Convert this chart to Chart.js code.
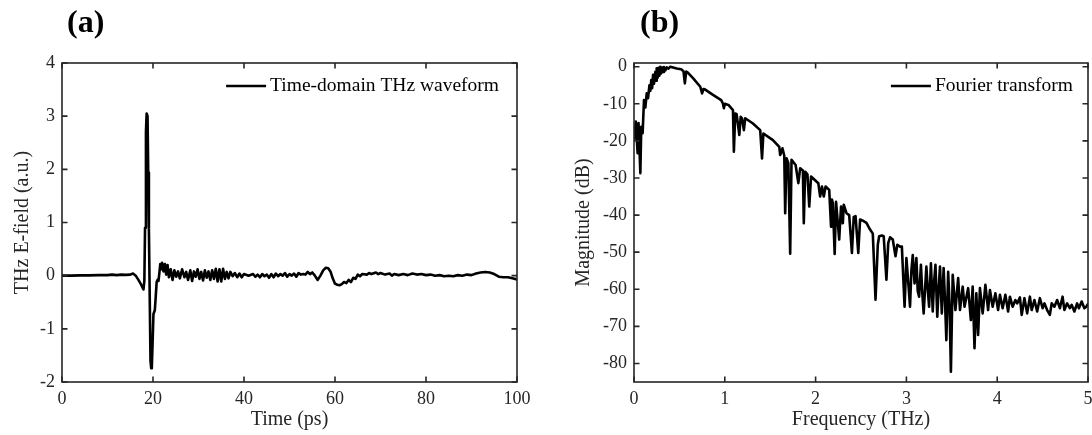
<!DOCTYPE html>
<html>
<head>
<meta charset="utf-8">
<script src="https://cdn.jsdelivr.net/npm/chart.js@4.4.1/dist/chart.umd.min.js"></script>
<style>
  body { margin: 0; background: #fff; }
  #wrap { position: relative; width: 1092px; height: 435px; overflow: hidden; }
  canvas { position: absolute; top: 0; }
  .panel { position: absolute; top: 3px; font: bold 32px "Liberation Serif", "Times New Roman", serif; color: #000; }
</style>
</head>
<body>
<div id="wrap">
  <canvas id="timeChart" width="546" height="435" style="left:0"></canvas>
  <canvas id="freqChart" width="546" height="435" style="left:546px"></canvas>
  <div class="panel" style="left:67px">(a)</div>
  <div class="panel" style="left:640px">(b)</div>
</div>
<script>
// (a) time-domain waveform
const timePs = [0, 2, 4, 6, 8, 10, 11, 12, 13, 14, 15, 15.6, 16.2, 16.8, 17.4, 17.9, 18.1, 18.25, 18.45, 18.6, 18.8, 18.95, 19.1, 19.3, 19.45, 19.6, 19.75, 19.9, 20.1, 20.4, 20.6, 20.8, 21.0, 21.2, 21.4, 21.6, 21.8, 22.0, 22.3, 22.6, 22.9, 23.2, 23.5, 23.9, 24.3, 24.7, 25.1, 25.5, 25.9, 26.4, 26.9, 27.3, 27.7, 28.2, 28.6, 29.0, 29.4, 29.8, 30.2, 30.6, 31.0, 31.4, 31.8, 32.2, 32.6, 33.0, 33.4, 33.8, 34.2, 34.6, 35.0, 35.4, 35.8, 36.2, 36.6, 37.0, 37.5, 38.0, 38.5, 39.0, 39.5, 40, 41, 42, 42.5, 43, 43.5, 44, 44.5, 45, 45.5, 46, 46.5, 47, 47.5, 48, 48.5, 49, 49.5, 50, 50.5, 51, 51.5, 52, 52.5, 53, 53.5, 54, 54.5, 55, 55.5, 56.2, 56.8, 57.4, 58, 58.5, 59, 59.5, 60, 60.5, 61, 61.5, 62, 62.5, 63, 63.5, 64, 64.5, 65, 65.5, 66, 67, 67.5, 68, 69, 69.5, 70, 71, 72, 72.5, 73, 74, 75, 76, 77, 78, 79, 80, 81, 82, 83, 84, 85, 86, 87, 88, 89, 90, 91, 92, 93, 94, 95, 96, 97, 98, 99, 100];
const eField = [0.0, 0.0, 0.005, 0.005, 0.01, 0.01, 0.02, 0.01, 0.02, 0.015, 0.02, 0.04, 0.0, -0.08, -0.17, -0.26, -0.1, 0.9, 2.7, 3.05, 3.0, 1.94, 0.88, -0.54, -1.6, -1.74, -1.7, -1.3, -0.72, -0.65, -0.4, -0.12, -0.08, -0.1, 0.05, 0.22, 0.12, 0.24, 0.08, 0.22, 0.02, 0.2, -0.03, 0.12, -0.08, 0.1, -0.02, 0.08, -0.05, 0.12, -0.03, 0.07, -0.08, 0.1, -0.1, 0.08, -0.02, 0.12, -0.06, 0.07, -0.09, 0.1, -0.04, 0.08, -0.08, 0.1, -0.06, 0.13, -0.11, 0.12, -0.11, 0.13, -0.06, 0.07, -0.05, 0.07, -0.01, 0.05, -0.03, 0.04, -0.03, 0.03, 0.0, 0.03, -0.02, 0.02, -0.03, 0.03, -0.01, 0.02, -0.04, 0.03, -0.03, 0.04, -0.01, 0.03, 0.0, 0.05, -0.02, 0.03, 0.0, 0.04, -0.02, 0.05, 0.02, 0.03, 0.02, 0.07, 0.03, 0.06, 0.01, -0.08, 0.0, 0.1, 0.15, 0.14, 0.08, -0.05, -0.15, -0.17, -0.18, -0.16, -0.12, -0.14, -0.08, -0.12, -0.04, -0.06, 0.02, -0.01, 0.03, 0.02, 0.05, 0.03, 0.06, 0.03, 0.05, 0.02, 0.04, 0.0, 0.03, 0.01, 0.03, 0.01, 0.04, 0.02, 0.03, 0.01, 0.02, 0.0, 0.01, -0.01, 0.0, -0.01, 0.01, 0.0, 0.02, 0.01, 0.04, 0.06, 0.07, 0.06, 0.03, -0.02, -0.03, -0.03, -0.05, -0.07];
const timeTicks = [0, 20, 40, 60, 80, 100];
const fieldTicks = [-2, -1, 0, 1, 2, 3, 4];

// (b) spectrum
const freqTHz = [0.00, 0.02, 0.04, 0.05, 0.07, 0.08, 0.095, 0.11, 0.125, 0.14, 0.155, 0.17, 0.18, 0.19, 0.20, 0.21, 0.22, 0.235, 0.245, 0.25, 0.26, 0.27, 0.28, 0.29, 0.30, 0.31, 0.32, 0.33, 0.345, 0.36, 0.38, 0.40, 0.43, 0.47, 0.52, 0.545, 0.56, 0.575, 0.59, 0.65, 0.73, 0.75, 0.765, 0.78, 0.87, 0.96, 0.98, 0.99, 1.0, 1.04, 1.09, 1.10, 1.115, 1.13, 1.16, 1.175, 1.19, 1.21, 1.225, 1.31, 1.39, 1.41, 1.425, 1.53, 1.60, 1.61, 1.635, 1.655, 1.665, 1.68, 1.70, 1.72, 1.735, 1.78, 1.81, 1.83, 1.86, 1.87, 1.885, 1.91, 1.93, 1.95, 2.03, 2.05, 2.07, 2.09, 2.11, 2.15, 2.17, 2.18, 2.19, 2.21, 2.225, 2.26, 2.28, 2.30, 2.31, 2.34, 2.37, 2.40, 2.42, 2.44, 2.47, 2.49, 2.52, 2.56, 2.60, 2.63, 2.66, 2.685, 2.70, 2.73, 2.75, 2.78, 2.80, 2.82, 2.85, 2.88, 2.90, 2.93, 2.95, 2.98, 3.00, 3.02, 3.04, 3.055, 3.07, 3.09, 3.11, 3.125, 3.14, 3.16, 3.175, 3.19, 3.22, 3.235, 3.25, 3.27, 3.29, 3.305, 3.32, 3.34, 3.355, 3.37, 3.39, 3.41, 3.425, 3.44, 3.46, 3.475, 3.49, 3.51, 3.54, 3.57, 3.59, 3.62, 3.64, 3.68, 3.71, 3.73, 3.75, 3.77, 3.79, 3.81, 3.84, 3.87, 3.90, 3.92, 3.95, 3.98, 4.01, 4.03, 4.06, 4.09, 4.12, 4.14, 4.17, 4.20, 4.22, 4.25, 4.27, 4.30, 4.33, 4.36, 4.38, 4.41, 4.44, 4.47, 4.50, 4.52, 4.55, 4.58, 4.60, 4.63, 4.66, 4.69, 4.72, 4.74, 4.77, 4.80, 4.82, 4.85, 4.88, 4.90, 4.93, 4.96, 4.98, 5.00];
const magnitudeDb = [-19.8, -14.8, -23.3, -15.2, -28.7, -16.2, -17.9, -9.0, -11.0, -7.2, -8.5, -5.0, -6.5, -3.6, -5.8, -2.2, -4.6, -1.4, -3.8, -0.4, -3.0, -0.3, -2.4, 0.0, -1.8, -0.2, -1.4, -0.1, -1.0, -0.2, -0.5, 0.0, -0.2, -0.5, -0.7, -1.2, -4.5, -1.3, -1.5, -3.1, -5.4, -7.2, -6.0, -6.1, -7.6, -9.0, -10.0, -11.2, -10.0, -10.3, -11.7, -22.9, -12.6, -12.8, -18.4, -13.5, -14.0, -17.1, -13.9, -15.3, -17.1, -24.7, -18.0, -19.8, -21.6, -23.8, -22.0, -24.0, -39.5, -24.7, -26.0, -50.4, -25.1, -26.5, -31.4, -27.4, -28.0, -42.2, -28.3, -29.0, -37.7, -29.6, -31.4, -35.0, -32.3, -35.0, -32.3, -33.2, -43.1, -35.8, -36.8, -50.5, -36.4, -46.6, -37.7, -42.2, -37.2, -39.5, -40.0, -50.2, -40.5, -40.3, -50.2, -41.2, -41.5, -42.1, -43.9, -45.0, -62.8, -48.0, -45.7, -45.5, -45.7, -57.4, -47.5, -46.0, -46.6, -51.1, -48.0, -48.5, -48.5, -64.7, -51.6, -58.0, -64.7, -55.0, -50.8, -58.4, -51.6, -60.5, -62.0, -53.4, -61.0, -66.5, -53.9, -60.0, -64.7, -53.0, -66.0, -58.0, -53.4, -67.4, -60.0, -53.9, -66.5, -54.3, -63.0, -73.7, -55.3, -64.0, -82.2, -56.1, -65.6, -57.0, -65.6, -59.3, -64.7, -59.7, -68.3, -59.3, -75.9, -61.1, -72.3, -59.7, -66.5, -58.8, -65.6, -60.2, -64.7, -61.1, -65.6, -61.5, -65.1, -61.5, -66.0, -62.0, -64.7, -62.9, -63.8, -62.2, -66.9, -62.4, -66.5, -62.0, -65.6, -62.9, -66.0, -62.4, -65.1, -63.8, -65.6, -66.9, -63.8, -64.7, -62.9, -65.1, -62.0, -65.6, -63.8, -65.1, -64.2, -66.0, -63.8, -65.1, -63.3, -65.1, -64.7, -64.0];
const freqTicks = [0, 1, 2, 3, 4, 5];
const dbTicks = [-80, -70, -60, -50, -40, -30, -20, -10, 0];

const SERIF = '"Liberation Serif", "Times New Roman", serif';
const AXIS = "#262626";

// box + inward ticks on all four sides, legend in the top right corner
const frameTicks = {
  id: "frameTicks",
  afterDatasetsDraw(chart) {
    const { ctx, chartArea: a, scales: { x, y } } = chart;
    ctx.save();
    ctx.strokeStyle = AXIS;
    ctx.lineWidth = 1.6;
    ctx.beginPath();
    x.ticks.forEach((t) => {
      const px = x.getPixelForValue(t.value);
      ctx.moveTo(px, a.bottom); ctx.lineTo(px, a.bottom - 5.5);
      ctx.moveTo(px, a.top); ctx.lineTo(px, a.top + 5.5);
    });
    y.ticks.forEach((t) => {
      const py = y.getPixelForValue(t.value);
      ctx.moveTo(a.left, py); ctx.lineTo(a.left + 5.5, py);
      ctx.moveTo(a.right, py); ctx.lineTo(a.right - 5.5, py);
    });
    ctx.stroke();
    ctx.strokeRect(a.left, a.top, a.right - a.left, a.bottom - a.top);

    const label = chart.data.datasets[0].label;
    ctx.font = "19.5px " + SERIF;
    ctx.fillStyle = "#000";
    ctx.textBaseline = "middle";
    const w = ctx.measureText(label).width;
    const tx = a.right - chart.options.legendGap - w;
    const ly = a.top + 23;
    ctx.fillText(label, tx, ly);
    ctx.strokeStyle = "#000";
    ctx.lineWidth = 2.5;
    ctx.beginPath();
    ctx.moveTo(tx - 44, ly); ctx.lineTo(tx - 4, ly);
    ctx.stroke();
    ctx.restore();
  },
};

const makeChart = (el, xs, ys, label, xCfg, yCfg, padRight, yWidth, yTitlePad, legendGap) =>
  new Chart(el, {
    type: "line",
    data: {
      datasets: [{
        label: label,
        data: xs.map((v, i) => ({ x: v, y: ys[i] })),
        borderColor: "#000",
        borderWidth: 2.6,
        borderJoinStyle: "round",
        borderCapStyle: "round",
        pointRadius: 0,
        tension: 0,
      }],
    },
    options: {
      responsive: false,
      animation: false,
      legendGap: legendGap,
      layout: { padding: { left: 0, top: 63, right: padRight, bottom: 0 } },
      plugins: { legend: { display: false }, tooltip: { enabled: false } },
      scales: {
        x: {
          type: "linear",
          min: xCfg.min,
          max: xCfg.max,
          afterBuildTicks: (s) => { s.ticks = xCfg.ticks.map((v) => ({ value: v })); },
          afterFit: (s) => { s.height = 53; s.paddingLeft = 0; s.paddingRight = 0; },
          grid: { display: false, drawTicks: false },
          border: { display: false },
          ticks: { color: AXIS, padding: 6, maxRotation: 0, font: { family: SERIF, size: 18 } },
          title: { display: true, text: xCfg.title, color: AXIS, padding: { top: 0, bottom: 3 }, font: { family: SERIF, size: 20 } },
        },
        y: {
          min: yCfg.min,
          max: yCfg.max,
          afterBuildTicks: (s) => { s.ticks = yCfg.ticks.map((v) => ({ value: v })); },
          afterFit: (s) => { s.width = yWidth; },
          grid: { display: false, drawTicks: false },
          border: { display: false },
          ticks: { color: AXIS, padding: 7, font: { family: SERIF, size: 18 } },
          title: { display: true, text: yCfg.title, color: AXIS, padding: { top: yTitlePad, bottom: 0 }, font: { family: SERIF, size: 20 } },
        },
      },
    },
    plugins: [frameTicks],
  });

makeChart(document.getElementById("timeChart"), timePs, eField, "Time-domain THz waveform",
  { min: 0, max: 100, ticks: timeTicks, title: "Time (ps)" },
  { min: -2, max: 4, ticks: fieldTicks, title: "THz E-field (a.u.)" },
  29, 62, 11, 18);

makeChart(document.getElementById("freqChart"), freqTHz, magnitudeDb, "Fourier transform",
  { min: 0, max: 5, ticks: freqTicks, title: "Frequency (THz)" },
  { min: -85, max: 1, ticks: dbTicks, title: "Magnitude (dB)" },
  4, 88, 26, 15);
</script>
</body>
</html>
